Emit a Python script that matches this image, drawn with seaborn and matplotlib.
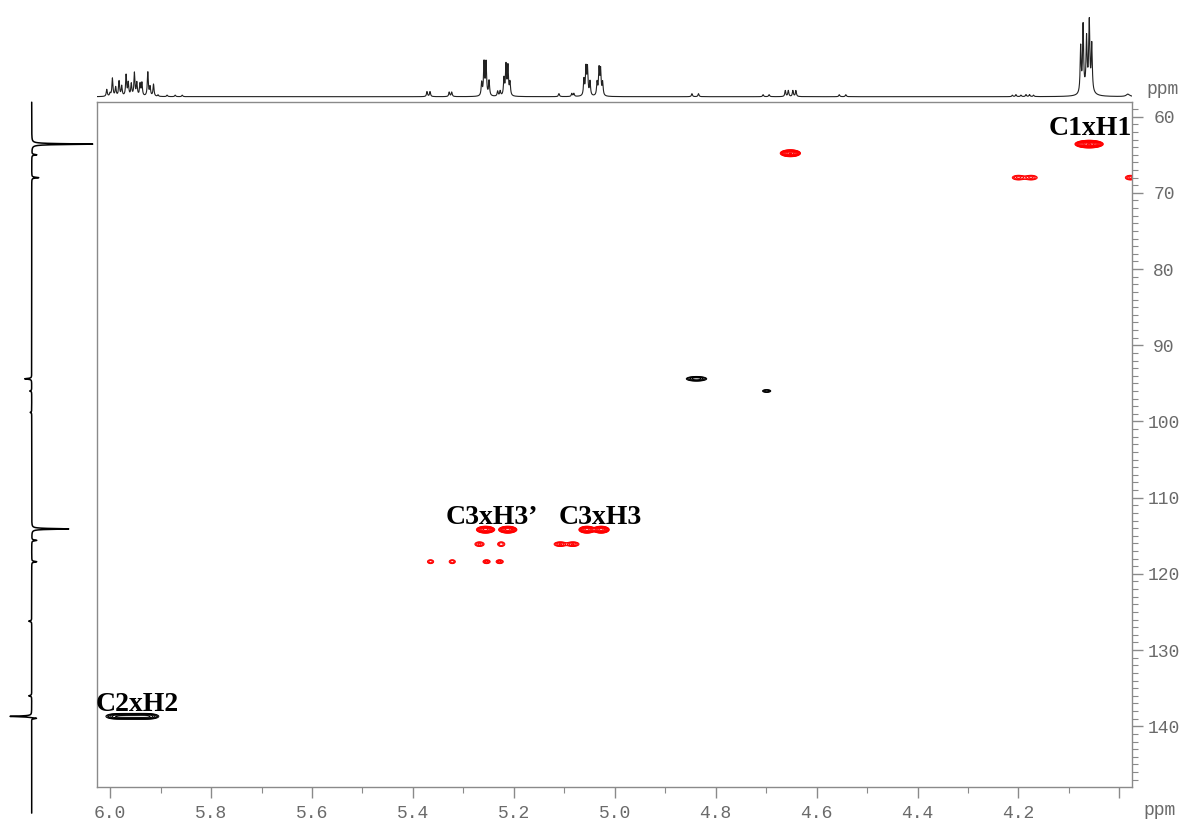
import numpy as np
import matplotlib
matplotlib.use('Agg')
import matplotlib.pyplot as plt
import seaborn as sns
from matplotlib.ticker import MultipleLocator, FuncFormatter

# 1H trace on top: line positions (ppm), heights, half widths (ppm)
h1_ppm = [6.0066, 6.0000, 5.9954, 5.9890, 5.9822, 5.9770, 5.9683, 5.9640, 5.9580, 5.9518,
          5.9470, 5.9406, 5.9370, 5.9253, 5.9208, 5.9140, 5.905, 5.887, 5.871, 5.857,
          5.372, 5.366, 5.328, 5.323,
          5.2637, 5.2590, 5.2550, 5.2490, 5.232, 5.227, 5.2195, 5.2155, 5.2116, 5.2076,
          5.1105, 5.085, 5.081,
          5.061, 5.057, 5.054, 5.049, 5.035, 5.031, 5.028, 5.024,
          4.847, 4.834, 4.706, 4.694, 4.662, 4.656, 4.647, 4.641, 4.555, 4.542,
          4.212, 4.205, 4.195, 4.185, 4.178, 4.170,
          4.0767, 4.0719, 4.0650, 4.0596, 4.0547, 4.062,
          3.983]
h1_int = [7, 3, 18, 9, 15, 10, 21, 13, 12, 23,
          13, 12, 13, 24, 9, 12, 1.5, 1.5, 1.5, 1.5,
          5, 5, 4.5, 4.5,
          13, 33, 33, 15, 5, 5, 17, 30, 29, 13,
          3, 3, 3,
          16, 27, 27, 14, 13, 26, 25, 13,
          3, 3, 2, 2, 6, 6, 6, 6, 2, 2,
          1.5, 2, 1.5, 2, 2, 1.5,
          46, 66, 50, 66, 46, 8,
          2.5]
h1_hw = [0.0012] * 61 + [0.0012] * 5 + [0.008] + [0.004]

# 13C projection on the left
c13_ppm = [63.6, 65.0, 68.0, 94.4, 96.0, 98.8, 114.1, 115.6, 118.4, 126.2, 136.0, 138.7, 138.95]
c13_int = [61, 5, 7, -7, -2, -1.5, 37, 5, 5, -3, -3, -22, 6]

# HSQC cross peaks: 1H, 13C, outer half width (1H, 13C), signed amplitude
cp_h = [4.060, 4.652, 4.200, 4.175, 3.978,
        5.256, 5.212, 5.055, 5.027,
        5.268, 5.225, 5.108, 5.083,
        5.365, 5.322, 5.254, 5.228,
        5.990, 5.972, 5.955, 5.938, 5.922,
        4.838, 4.699]
cp_c = [63.6, 64.8, 68.0, 68.0, 68.0,
        114.2, 114.2, 114.2, 114.2,
        116.1, 116.1, 116.1, 116.1,
        118.4, 118.4, 118.4, 118.4,
        138.7, 138.7, 138.7, 138.7, 138.7,
        94.4, 96.0]
cp_wh = [0.028, 0.020, 0.012, 0.012, 0.010,
         0.018, 0.018, 0.016, 0.016,
         0.009, 0.007, 0.012, 0.012,
         0.006, 0.006, 0.007, 0.007,
         0.018, 0.018, 0.018, 0.018, 0.018,
         0.020, 0.008]
cp_wc = [0.5, 0.45, 0.3, 0.3, 0.3,
         0.45, 0.45, 0.45, 0.45,
         0.3, 0.3, 0.3, 0.3,
         0.25, 0.25, 0.25, 0.25,
         0.33, 0.33, 0.33, 0.33, 0.33,
         0.3, 0.18]
cp_amp = [60, 30, 3, 3, 3,
          25, 25, 25, 25,
          3, 2.5, 4, 4,
          2.5, 2.5, 3, 3,
          -4, -4, -4, -4, -4,
          -5, -2.5]

labels = ['C1xH1', 'C3xH3\u2019', 'C3xH3', 'C2xH2']
label_h = [4.140, 5.336, 5.112, 6.028]
label_c = [62.4, 113.45, 113.45, 138.0]

xticks = [6.0, 5.8, 5.6, 5.4, 5.2, 5.0, 4.8, 4.6, 4.4, 4.2, 4.0]
yticks = [60, 70, 80, 90, 100, 110, 120, 130, 140]

sns.set_theme(style='white')
plt.rcParams['font.family'] = ['DejaVu Sans']

W, H = 1186, 821
fig = plt.figure(figsize=(W / 100, H / 100), dpi=100)


def box(l, t, r, b):
    return [l / W, 1 - b / H, (r - l) / W, (b - t) / H]


xlim = (6.026, 3.975)
ylim = (147.97, 58.14)
grey = '#8a8a8a'
lab_grey = '#6a6a6a'

# main 2D panel
ax = fig.add_axes(box(97, 102.5, 1132, 787))
hh = np.linspace(3.95, 6.05, 2100)
cc = np.linspace(57.5, 149.0, 1400)
Z = np.zeros((cc.size, hh.size))
for h0, c0, wh, wc, a in zip(cp_h, cp_c, cp_wh, cp_wc, cp_amp):
    k = np.sqrt(2 * np.log(abs(a)))
    gh = np.exp(-0.5 * ((hh - h0) / (wh / k)) ** 2)
    gc = np.exp(-0.5 * ((cc - c0) / (wc / k)) ** 2)
    Z += a * np.outer(gc, gh)

levels = 0.95 * 1.4 ** np.arange(0, 14)
ax.contour(hh, cc, Z, levels=levels, colors='red', linewidths=0.7)
ax.contour(hh, cc, Z, levels=-levels[::-1], colors='black', linewidths=0.7,
           linestyles='solid')

for t, x, y in zip(labels, label_h, label_c):
    ax.text(x, y, t, ha='left', va='baseline', fontsize=20, fontweight='bold',
            family='Liberation Serif', color='black')

ax.set_xlim(*xlim)
ax.set_ylim(*ylim)
ax.set_xticks(xticks)
ax.xaxis.set_minor_locator(MultipleLocator(0.1))
ax.set_yticks(yticks)
ax.yaxis.set_minor_locator(MultipleLocator(1))
ax.xaxis.set_major_formatter(FuncFormatter(lambda v, p: '' if abs(v - 4.0) < 1e-6 else f'{v:.1f}'))
ax.yaxis.set_major_formatter(FuncFormatter(lambda v, p: f'{v:.0f}'))
ax.tick_params(axis='x', which='both', bottom=True, top=False, direction='out', color=grey)
ax.tick_params(axis='y', which='both', left=False, right=True, labelleft=False,
               labelright=True, direction='out', color=grey)
ax.tick_params(which='major', length=8, width=1, labelsize=13, labelcolor=lab_grey)
ax.tick_params(which='minor', length=4, width=0.8)
ax.tick_params(axis='x', pad=5)
ax.tick_params(axis='y', pad=15)
for lab in ax.get_xticklabels() + ax.get_yticklabels():
    lab.set_family('Liberation Mono')
for lab in ax.get_yticklabels():
    lab.set_ha('center')
for s in ax.spines.values():
    s.set_color(grey)
    s.set_linewidth(1)
ax.set_xlabel('')
ax.set_ylabel('')

# top 1H trace
ax_top = fig.add_axes(box(97, 5, 1132, 100))
hx = np.linspace(xlim[1], xlim[0], 24000)
trace = np.zeros_like(hx)
for p, a, w in zip(h1_ppm, h1_int, h1_hw):
    trace += a * w ** 2 / ((hx - p) ** 2 + w ** 2)
sns.lineplot(x=hx, y=trace, ax=ax_top, color='#222222', linewidth=0.8, estimator=None)
ax_top.set_xlim(*xlim)
ax_top.set_ylim(-3.3, 91.7)
ax_top.axis('off')

# left 13C projection
ax_left = fig.add_axes(box(0, 102.5, 97, 787))
cy = np.linspace(58.1, 151.4, 30000)
proj = np.zeros_like(cy)
for p, a in zip(c13_ppm, c13_int):
    proj += a * 0.06 ** 2 / ((cy - p) ** 2 + 0.06 ** 2)
sns.lineplot(x=proj, y=cy, ax=ax_left, orient='y', sort=False, estimator=None,
             color='black', linewidth=1.1)
ax_left.lines[-1].set_clip_on(False)
ax_left.set_xlim(-31.7, 65.3)
ax_left.set_ylim(*ylim)
ax_left.axis('off')

fig.text(1160 / W, 1 - 810 / H, 'ppm', ha='center', va='center', fontsize=13,
         family='Liberation Mono', color=lab_grey)
fig.text(1163 / W, 1 - 89 / H, 'ppm', ha='center', va='center', fontsize=13,
         family='Liberation Mono', color=lab_grey)

fig.savefig('out.png', dpi=100)
